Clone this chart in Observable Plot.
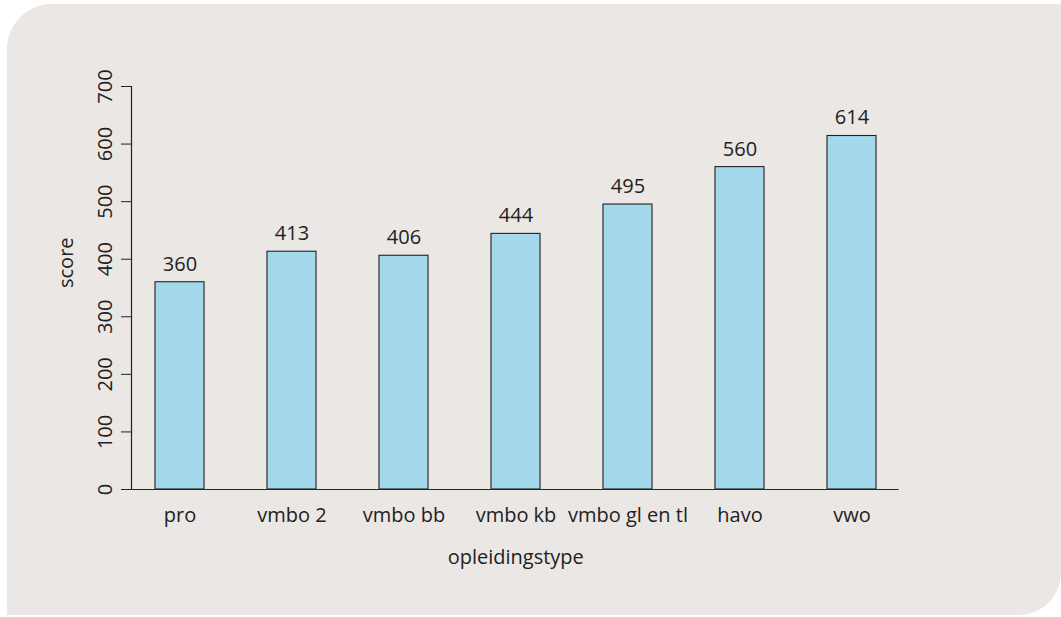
<!DOCTYPE html>
<html>
<head>
<meta charset="utf-8">
<script src="https://cdn.jsdelivr.net/npm/d3@7"></script>
<script src="https://cdn.jsdelivr.net/npm/@observablehq/plot@0.6"></script>
<style>
  html, body { margin: 0; padding: 0; background: #ffffff; }
  #wrap { position: relative; width: 1061px; height: 617px; overflow: hidden; }
  #card { position: absolute; left: 7px; top: 4px; width: 1054px; height: 611px;
          background: #ebe7e4; border-radius: 45px 0 42px 0; }
  #chart { position: absolute; left: 0; top: 0; }
  #chart svg { background: transparent; }
</style>
</head>
<body>
<div id="wrap"><div id="card"></div><div id="chart"></div></div>
<script>
const categories = ["pro", "vmbo 2", "vmbo bb", "vmbo kb", "vmbo gl en tl", "havo", "vwo"];
const scores = [360, 413, 406, 444, 495, 560, 614];
const yTicks = [0, 100, 200, 300, 400, 500, 600, 700];
const xTitle = "opleidingstype";
const yTitle = "score";

const data = categories.map((c, i) => ({ type: c, score: scores[i] }));
const font = "'Open Sans', 'DejaVu Sans', sans-serif";
const ink = "#222222";

const chart = Plot.plot({
  width: 1061,
  height: 617,
  marginLeft: 131,
  marginRight: 161.5,
  marginTop: 86,
  marginBottom: 128,
  style: { fontFamily: font, fontSize: "20px", color: ink, background: "transparent" },
  x: { domain: categories, paddingInner: 0.565, paddingOuter: 0.198, label: null },
  y: { domain: [0, 700], label: null },
  marks: [
    Plot.barY(data, { x: "type", y: "score", fill: "#a3d9eb", stroke: ink, strokeWidth: 1.1 }),
    Plot.text(data, { x: "type", y: "score", text: d => String(d.score), dy: -18, fontSize: 20, fill: ink }),
    Plot.ruleY([0], { stroke: ink, strokeWidth: 1.2, insetLeft: -10, insetRight: 1 }),
    Plot.frame({ anchor: "left", stroke: ink, strokeWidth: 1.2 }),
    Plot.axisY(yTicks, { tickSize: 10, tickPadding: 10, tickRotate: -90, fontSize: 20, stroke: ink, fill: ink, label: null }),
    Plot.axisX({ tickSize: 0, tickPadding: 18, fontSize: 20, fill: ink, label: null }),
    Plot.text([xTitle], { frameAnchor: "bottom", lineAnchor: "middle", dy: 68, fontSize: 20, fill: ink }),
    Plot.text([yTitle], { frameAnchor: "left", lineAnchor: "middle", dx: -65, rotate: -90, fontSize: 20, fill: ink })
  ]
});
document.getElementById("chart").appendChild(chart);
</script>
</body>
</html>
